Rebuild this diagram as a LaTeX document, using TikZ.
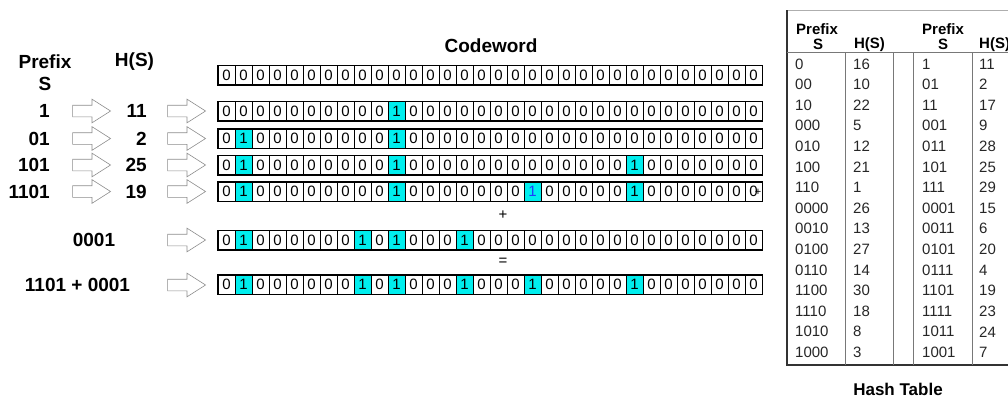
\documentclass[tikz,border=0pt]{standalone}
\usepackage{fontspec}
\setmainfont{Liberation Sans}
\usetikzlibrary{shapes.arrows,positioning}
\definecolor{hitcyan}{RGB}{0,238,238}
\definecolor{hitblue}{RGB}{30,60,255}
\definecolor{arrowgray}{RGB}{140,140,140}
\definecolor{rulegray}{RGB}{120,120,120}

% 32ビットの符号語の行（#1: 行名, #2: y座標, #3: 1の位置, #4: 青字の1の位置）
\newcommand{\cwrow}[4]{%
  \foreach \i in {1,...,32}{
    \gdef\bitval{0}\gdef\bitstyle{cell}%
    \foreach \j in {#3}{\ifnum\i=\j \gdef\bitval{1}\gdef\bitstyle{onecell}\fi}%
    \ifnum\i=#4 \gdef\bitval{1}\gdef\bitstyle{bluecell}\fi
    \node[\bitstyle] (#1-\i) at ({218+17*(\i-0.5)},#2) {\bitval};
  }
  \draw[line width=1.3pt] (#1-1.north west) rectangle (#1-32.south east);
}

\begin{document}
\begin{tikzpicture}[x=1pt,y=-1pt,
  cell/.style={draw,line width=0.7pt,minimum width=17pt,minimum height=19pt,inner sep=0pt,
    font=\fontsize{15}{15}\selectfont},
  onecell/.style={cell,fill=hitcyan},
  bluecell/.style={onecell,text=hitblue},
  lbl/.style={font=\fontsize{19}{20}\selectfont\bfseries,inner sep=0pt},
  hollow/.style={single arrow,draw=arrowgray,line width=0.6pt,minimum height=38pt,
    inner xsep=0pt,inner ysep=5.5pt,single arrow head extend=6pt,single arrow tip angle=65,
    single arrow head indent=0pt},
  tabtext/.style={anchor=west,inner sep=0pt,text=black!85,font=\fontsize{15}{15}\selectfont},
  tabhead/.style={inner sep=0pt,font=\fontsize{15}{16}\selectfont\bfseries}]
  \useasboundingbox (0,0) rectangle (1008,399);

  % 見出し
  \node[lbl] (prefix) at (45,62) {Prefix};
  \node[lbl] (sym) at (45,84) {S};
  \node[lbl] (hash) at (134.5,62) {H(S)};
  \node[lbl,font=\fontsize{19}{20}\selectfont\bfseries] (title) at (491,46) {Codeword};

  % 符号語の行
  \cwrow{r0}{75}{0}{0}
  \cwrow{r1}{111}{11}{0}
  \cwrow{r2}{138.5}{2,11}{0}
  \cwrow{r3}{165}{2,11,25}{0}
  \cwrow{r4}{191.5}{2,11,25}{19}
  \cwrow{r5}{240}{2,9,11,15}{0}
  \cwrow{r6}{284.5}{2,9,11,15,19,25}{0}
  \node[inner sep=0pt,font=\fontsize{11}{11}\selectfont] (stray) at (758,192) {+};
  \node[inner sep=0pt,font=\fontsize{15}{15}\selectfont] (plus) at (503,215) {+};
  \node[inner sep=0pt,font=\fontsize{15}{15}\selectfont] (eq) at (503,262) {=};

  % 左側のラベルと矢印
  \foreach \y/\p/\h [count=\k] in {111/1/11,138.5/01/2,165/101/25,191.5/1101/19}{
    \node[lbl,anchor=east] (p\k) at (50,\y) {\p};
    \node[hollow] (a\k) at (87,\y) {};
    \node[lbl,anchor=east] (h\k) at (147,\y) {\h};
    \node[hollow] (b\k) at (182,\y) {};
  }
  \node[lbl] (p5) at (94,240) {0001};
  \node[hollow] (b5) at (182,240) {};
  \node[lbl] (p6) at (77.5,285) {1101 + 0001};
  \node[hollow] (b6) at (182,285) {};

  % ハッシュ表
  \begin{scope}
    \clip (0,0) rectangle (1008,399);
    \draw[rulegray!60,line width=0.8pt] (787,10) -- (1020,10); % 上の枠
    \draw[black!80,line width=1.4pt] (787,10) -- (787,365) -- (1020,365); % 左と下の枠
    \draw[rulegray,line width=0.6pt] (787,52) -- (1020,52); % 見出しの下線
    \foreach \x in {845.7,893,913,972}
      \draw[rulegray,line width=0.6pt] (\x,52) -- (\x,365);
    \node[tabhead] (tp1) at (817,29) {Prefix};
    \node[tabhead] (ts1) at (818,44) {S};
    \node[tabhead] (th1) at (869.5,45) {H(S)};
    \node[tabhead] (tp2) at (943,29) {Prefix};
    \node[tabhead] (ts2) at (943,44) {S};
    \node[tabhead,anchor=west] (th2) at (979,45) {H(S)};
    \foreach \pa/\ha/\pb/\hb [count=\k from 0] in {0/16/1/11,00/10/01/2,10/22/11/17,
        000/5/001/9,010/12/011/28,100/21/101/25,110/1/111/29,0000/26/0001/15,
        0010/13/0011/6,0100/27/0101/20,0110/14/0111/4,1100/30/1101/19,
        1110/18/1111/23,1010/8/1011/24,1000/3/1001/7}{
      \node[tabtext] (ta\k) at (795,{64+20.6*\k}) {\pa};
      \node[tabtext] (tb\k) at (853,{64+20.6*\k}) {\ha};
      \node[tabtext] (tc\k) at (922,{64+20.6*\k}) {\pb};
      \node[tabtext] (td\k) at (979,{64+20.6*\k}) {\hb};
    }
  \end{scope}
  \node[lbl,font=\fontsize{17}{18}\selectfont\bfseries] (tabname) at (898,389) {Hash Table};
\end{tikzpicture}
\end{document}
